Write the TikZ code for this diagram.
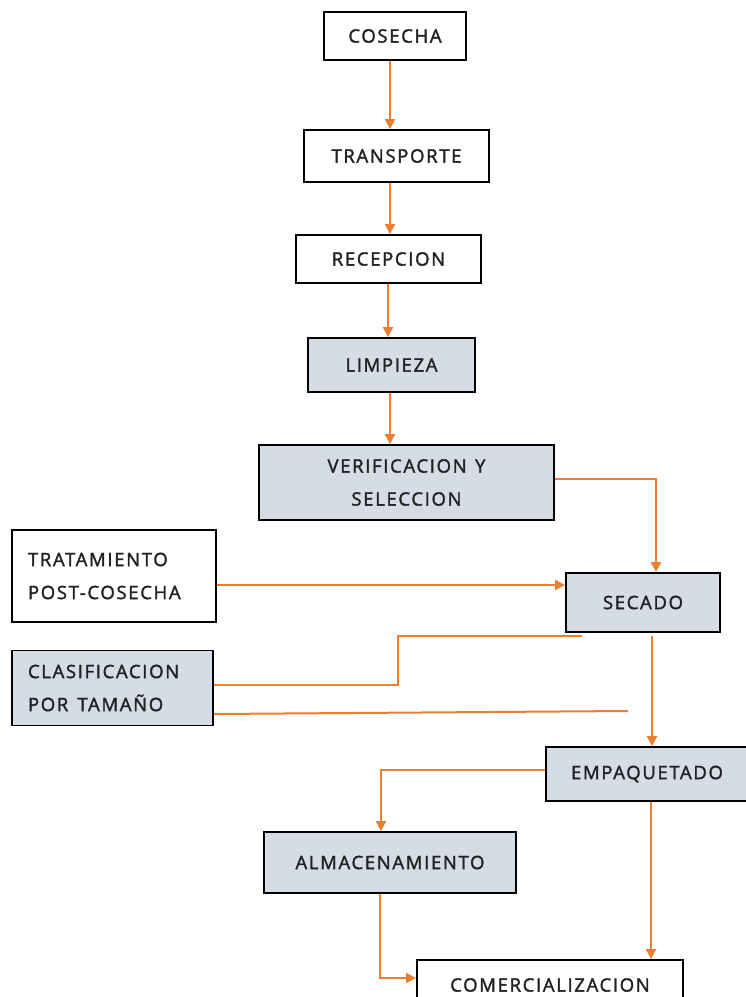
\documentclass[tikz,border=0pt]{standalone}
\usepackage{fontspec}
\setmainfont{Open Sans}[LetterSpace=9, FakeBold=1.8, WordSpace=1.3]
\usetikzlibrary{arrows.meta}
\definecolor{stepfill}{HTML}{D6DCE5}
\definecolor{flow}{HTML}{ED7D31}
\definecolor{ink}{HTML}{222222}
\begin{document}
\begin{tikzpicture}[x=1pt,y=-1pt,
  box/.style={draw=black, line width=1.8pt, rectangle, inner sep=0pt,
    text=ink, font=\fontsize{18.5}{33}\selectfont, align=center},
  shaded/.style={box, fill=stepfill},
  plain/.style={box, fill=white},
  leftbox/.style={align=left, inner xsep=16pt},
  link/.style={draw=flow, line width=2pt},
  arrow/.style={link, -{Triangle[length=10pt,width=10pt]}}]
\useasboundingbox (0,0) rectangle (746,997);
\fill[white] (0,0) rectangle (746,997);

% main column
\node[plain, minimum width=142, minimum height=48] (cosecha) at (395,36) {COSECHA};
\node[plain, minimum width=185, minimum height=52] (transporte) at (396.5,156) {TRANSPORTE};
\node[plain, minimum width=185, minimum height=48] (recepcion) at (388.5,259) {RECEPCION};
\node[shaded, minimum width=167, minimum height=54] (limpieza) at (391.5,365) {LIMPIEZA};
\node[shaded, minimum width=295, minimum height=75] (verif) at (406.5,482.5) {VERIFICACION Y\\SELECCION};

% side inputs
\node[plain, leftbox, text width=172, minimum height=92] (tratamiento) at (114,576) {TRATAMIENTO\\POST-COSECHA};
\node[shaded, leftbox, text width=169, minimum height=75] (clasif) at (112.5,688) {CLASIFICACION\\POR\hspace{3pt} TAMAÑO};

\node[shaded, minimum width=154, minimum height=59] (secado) at (643,602.5) {SECADO};
\node[shaded, minimum width=202, minimum height=54] (empaque) at (647,774) {EMPAQUETADO};
\node[shaded, minimum width=252, minimum height=61] (almacen) at (390,862.5) {ALMACENAMIENTO};
\node[plain, minimum width=266, minimum height=50] (comercial) at (550,985) {COMERCIALIZACION};

% free ends of the lines from CLASIFICACION
\coordinate (clasA) at (582,636);
\coordinate (clasB) at (628,711);
\coordinate (bendA) at (398,636);

% connectors
\draw[arrow] (cosecha.south -| 390,0) -- (transporte.north -| 390,0);
\draw[arrow] (transporte.south -| 390,0) -- (recepcion.north -| 390,0);
\draw[arrow] (recepcion.south -| 388,0) -- (limpieza.north -| 388,0);
\draw[arrow] (limpieza.south -| 390,0) -- (verif.north -| 390,0);
\draw[arrow] (verif.east |- 0,479) -- (656,479) -- (secado.north -| 656,0);
\draw[arrow] (tratamiento.east |- 0,585) -- (secado.west |- 0,585);
\draw[link] (clasif.east |- 0,685) -- (bendA |- 0,685) -- (bendA) -- (clasA);
\draw[link] (clasif.east |- 0,714) -- (clasB);
\draw[arrow] (652,636) -- (empaque.north -| 652,0);
\draw[arrow] (empaque.west |- 0,770) -- (381,770) -- (almacen.north -| 381,0);
\draw[arrow] (empaque.south -| 651,0) -- (comercial.north -| 651,0);
\draw[arrow] (almacen.south -| 380,0) -- (380,978) -- (comercial.west |- 0,978);
\end{tikzpicture}
\end{document}
